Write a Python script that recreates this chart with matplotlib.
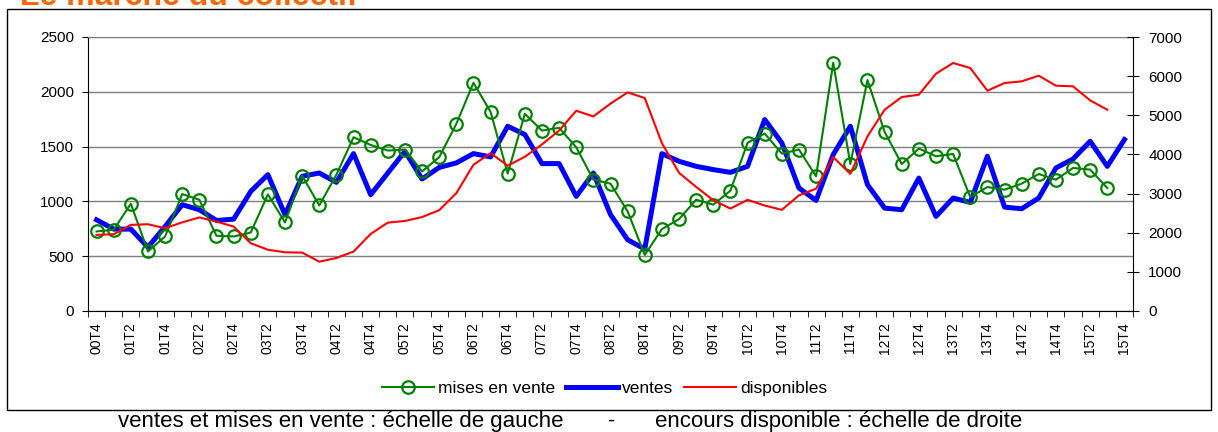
import matplotlib
matplotlib.use("Agg")
import matplotlib.pyplot as plt
from matplotlib.patches import Rectangle
import numpy as np

plt.rcParams['font.family'] = ['Liberation Sans', 'DejaVu Sans']

# trimestres 2000T4 -> 2015T4
trimestres = ["%02dT%d" % (a, q) for a in range(0, 16) for q in (1, 2, 3, 4)][3:]

# mises en vente (echelle de gauche), jusqu'a 15T3
mises = [726, 741, 979, 543, 680, 1067, 1015, 686, 680, 716,
         1064, 808, 1235, 963, 1244, 1585, 1515, 1464, 1473, 1274,
         1403, 1707, 2082, 1817, 1253, 1799, 1646, 1671, 1494, 1198,
         1162, 909, 512, 747, 838, 1015, 970, 1098, 1534, 1619,
         1436, 1473, 1229, 2265, 1341, 2107, 1634, 1341, 1482, 1412,
         1433, 1040, 1131, 1107, 1162, 1250, 1198, 1305, 1290, 1122]

# ventes (echelle de gauche), jusqu'a 15T4
ventes = [832, 747, 747, 582, 771, 970, 924, 826, 838, 1091,
          1244, 878, 1229, 1259, 1174, 1436, 1061, 1259, 1457, 1204,
          1310, 1351, 1436, 1406, 1686, 1610, 1345, 1345, 1046, 1259,
          880, 650, 565, 1436, 1366, 1320, 1290, 1265, 1320, 1747,
          1534, 1122, 1009, 1427, 1686, 1153, 939, 924, 1213, 863,
          1031, 991, 1412, 948, 933, 1031, 1305, 1387, 1549, 1320, 1564]

# encours disponible (echelle de droite), jusqu'a 15T3
dispo = [1944, 1961, 2200, 2217, 2115, 2265, 2390, 2285, 2157, 1731,
         1565, 1500, 1492, 1260, 1355, 1518, 1968, 2258, 2300, 2400,
         2575, 3010, 3735, 4033, 3712, 3940, 4255, 4610, 5116, 4971,
         5298, 5585, 5440, 4289, 3530, 3170, 2830, 2617, 2840, 2695,
         2584, 2955, 3125, 3931, 3505, 4460, 5142, 5466, 5525, 6063,
         6336, 6208, 5628, 5824, 5867, 6012, 5756, 5739, 5381, 5142]

x_v = np.arange(len(ventes))
x_m = np.arange(len(mises))
x_d = np.arange(len(dispo))

fig = plt.figure(figsize=(12.18, 4.32), dpi=100)
ax = fig.add_axes([88/1218, 1-311/432, 1045/1218, 274/432])
ax2 = ax.twinx()

l_v, = ax.plot(x_v, ventes, color='#0000FF', lw=3.6, label='ventes', zorder=2)
l_m, = ax.plot(x_m, mises, color='#008000', lw=1.5, marker='o', ms=9,
               mfc='none', mew=1.6, label='mises en vente', zorder=3)
l_d, = ax2.plot(x_d, dispo, color='#FF0000', lw=1.5, label='disponibles')

ax.set_xlim(-0.5, len(trimestres) - 0.5)
ax.set_ylim(0, 2500)
ax2.set_ylim(0, 7000)

ax.set_yticks(np.arange(0, 2501, 500))
ax2.set_yticks(np.arange(0, 7001, 1000))
ax.set_xticks(np.arange(0, len(trimestres), 2))
ax.set_xticklabels(trimestres[::2], rotation=90, fontsize=10)
ax.set_xticks(np.arange(-0.5, len(trimestres), 1), minor=True)

ax.tick_params(axis='x', which='major', length=0, pad=8)
ax.tick_params(axis='x', which='minor', length=4, direction='out')
ax.tick_params(axis='y', length=4, direction='out', labelsize=11, pad=6)
ax2.tick_params(axis='y', length=8, direction='inout', labelsize=11, pad=7)

ax.yaxis.grid(True, color='#7f7f7f', lw=1)
ax.set_axisbelow(True)

ax.spines['top'].set_color('#7f7f7f')
ax.spines['right'].set_visible(False)
for s in ['top', 'left', 'bottom']:
    ax2.spines[s].set_visible(False)

fig.legend([l_m, l_v, l_d], ['mises en vente', 'ventes', 'disponibles'],
           loc='center', bbox_to_anchor=(604.5/1218, 1-388/432), ncol=3,
           frameon=False, fontsize=12.5, handlelength=3, handletextpad=0.25,
           columnspacing=0.6)

# cadre du graphique
fig.patches.append(Rectangle((7/1218, 1-410/432), 1204/1218, 401/432,
                             transform=fig.transFigure, fill=False,
                             ec='black', lw=1))

fig.text(20/1218, 1-5/432, 'Le marché du collectif', color='#FF6600',
         fontsize=23, fontweight='bold', va='baseline', ha='left')

y_leg = 1 - 421/432
fig.text(118/1218, y_leg, 'ventes et mises en vente : échelle de gauche',
         fontsize=16, ha='left', va='center')
fig.text(612/1218, y_leg, '-', fontsize=16, ha='center', va='center')
fig.text(655/1218, y_leg, 'encours disponible : échelle de droite',
         fontsize=16, ha='left', va='center')

fig.savefig('out.png', dpi=100)
